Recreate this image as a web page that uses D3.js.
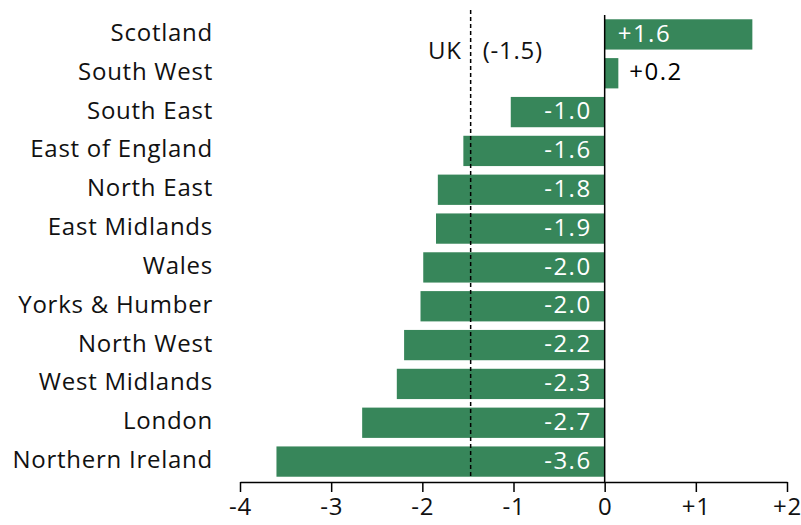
<!DOCTYPE html>
<html><head><meta charset="utf-8">
<script src="https://cdn.jsdelivr.net/npm/d3@7"></script>
<style>body{margin:0;background:#fff;}svg{display:block;font-family:"Open Sans",sans-serif;}</style>
</head><body><svg id="c" width="801" height="525"></svg>
<script>
const regions = ["Scotland","South West","South East","East of England","North East","East Midlands","Wales","Yorks & Humber","North West","West Midlands","London","Northern Ireland"];
const values = [1.62, 0.15, -1.03, -1.55, -1.83, -1.85, -1.99, -2.02, -2.2, -2.28, -2.66, -3.6];
const labels = ["+1.6","+0.2","-1.0","-1.6","-1.8","-1.9","-2.0","-2.0","-2.2","-2.3","-2.7","-3.6"];
const tickValues = [-4,-3,-2,-1,0,1,2];
const tickLabels = ["-4","-3","-2","-1","0","+1","+2"];
const ukValue = -1.47;
const ukLabel = ["UK","(-1.5)"];

const svg = d3.select("#c");
const x = d3.scaleLinear().domain([-4,2]).range([240,787]);
const y = d3.scaleBand().domain(regions).range([15,481]).paddingInner(0.22).paddingOuter(0.11);
const green = "#37865a";
const fs = 24;
const ls = 0.75;

svg.selectAll("rect.bar").data(values).join("rect")
  .attr("x", d => x(Math.min(0,d)))
  .attr("width", d => Math.abs(x(d)-x(0)))
  .attr("y", (d,i) => y(regions[i]))
  .attr("height", y.bandwidth())
  .attr("fill", green);

svg.selectAll("text.val").data(values).join("text")
  .attr("x", (d,i) => d < 0 ? x(0)-13 : (d > 0.5 ? x(0)+13 : x(d)+11))
  .attr("y", (d,i) => y(regions[i]) + y.bandwidth()/2)
  .attr("dy","0.3em")
  .attr("text-anchor", d => d < 0 ? "end" : "start")
  .attr("fill", d => (d > 0 && d < 0.5) ? "#000" : "#fff")
  .attr("font-size", fs)
  .attr("letter-spacing", 1.5)
  .text((d,i) => labels[i]);

svg.selectAll("text.cat").data(regions).join("text")
  .attr("x", 213)
  .attr("y", d => y(d) + y.bandwidth()/2)
  .attr("dy","0.27em")
  .attr("text-anchor","end")
  .attr("font-size", fs)
  .attr("letter-spacing", ls)
  .attr("fill","#111")
  .text(d => d);

svg.append("line").attr("x1",x(0)).attr("x2",x(0)).attr("y1",15).attr("y2",482)
  .attr("stroke","#000").attr("stroke-width",1.5);
svg.append("line").attr("x1",x(ukValue)).attr("x2",x(ukValue)).attr("y1",10).attr("y2",478)
  .attr("stroke","#000").attr("stroke-width",1.5).attr("stroke-dasharray","4,3");
svg.append("text").attr("x",x(ukValue)-9).attr("y",52).attr("dy","0.3em")
  .attr("text-anchor","end").attr("font-size",fs).attr("letter-spacing",ls).attr("fill","#111").text(ukLabel[0]);
svg.append("text").attr("x",x(ukValue)+12).attr("y",52).attr("dy","0.3em")
  .attr("text-anchor","start").attr("font-size",fs).attr("letter-spacing",ls).attr("fill","#111").text(ukLabel[1]);

const ax = d3.axisBottom(x).tickValues(tickValues).tickSize(10).tickSizeOuter(0)
  .tickFormat((d,i) => tickLabels[i]);
const g = svg.append("g").attr("transform","translate(0,482)").call(ax);
g.select(".domain").attr("stroke","#000").attr("stroke-width",1.5);
g.selectAll(".tick line").attr("stroke","#000").attr("stroke-width",1.5);
g.selectAll(".tick text").attr("font-size",fs).attr("font-family","Open Sans, sans-serif").attr("letter-spacing",ls).attr("fill","#111").attr("dy","0.85em");
</script></body></html>
